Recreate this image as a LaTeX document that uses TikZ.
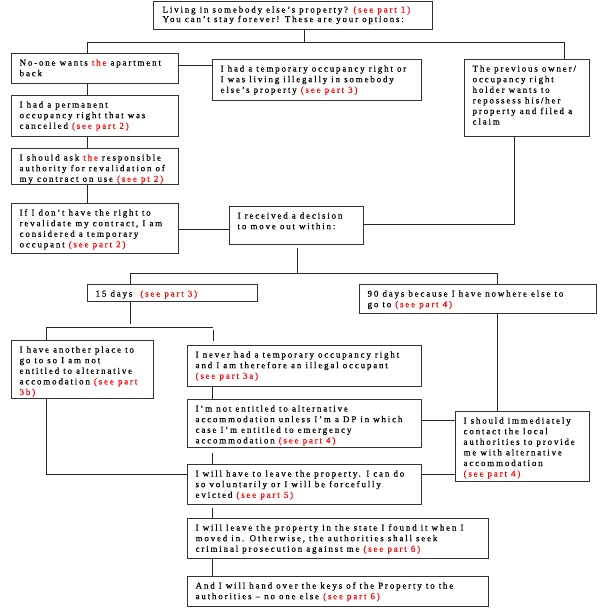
\documentclass[tikz,border=0pt]{standalone}
\usepackage{fontspec}
\setmainfont{Liberation Serif}[LetterSpace=20,FakeBold=0.4]
\usetikzlibrary{calc}
\newcommand{\redtxt}[1]{\textcolor{red}{#1}}
\newcommand{\bxtext}[3]{\hspace*{8pt}\parbox[b][#1pt][t]{#2pt}{\raggedright\rule{0pt}{12pt}#3}}
\tikzset{
  box/.style={draw=black!80, line width=1.2pt, fill=white, inner xsep=0pt, inner ysep=0pt,
    anchor=north west, font=\fontsize{9}{10.6}\selectfont},
  link/.style={draw=black!85, line width=1pt},
}
\newcommand{\mybox}[6]{%
  \pgfmathsetmacro{\bw}{#4-#2-8}\pgfmathsetmacro{\bh}{#5-#3}%
  \node[box] (#1) at (#2,#3) {\bxtext{\bh}{\bw}{#6}};}
\begin{document}
\begin{tikzpicture}[x=1pt,y=-1pt]
\useasboundingbox (0,0) rectangle (610,608);
% boxes
\node[box, font=\fontsize{9}{9.5}\selectfont] (T) at (153,1) {\hspace*{9pt}\parbox[b][28pt][t]{270pt}{\raggedright\rule{0pt}{11pt}Living in somebody else’s property? \redtxt{(see part 1)}\\You can’t stay forever! These are your options:}};
\mybox{A}{11}{53}{178}{83}{No-one wants \redtxt{the} apartment\\back}
\mybox{B}{212}{59}{421}{100}{I had a temporary occupancy right or\\I was living illegally in somebody\\else’s property \redtxt{(see part 3)}}
\mybox{C}{464}{59}{589}{136}{The previous owner/\\occupancy right\\holder wants to\\repossess his/her\\property and filed a\\claim}
\mybox{D}{11}{95}{178}{136}{I had a permanent\\occupancy right that was\\cancelled \redtxt{(see part 2)}}
\mybox{E}{11}{148}{178}{184}{I should ask \redtxt{the} responsible\\authority for revalidation of\\my contract on use \redtxt{(see pt 2)}}
\mybox{F}{11}{203}{178}{253}{If I don’t have the right to\\revalidate my contract, I am\\considered a temporary\\occupant \redtxt{(see part 2)}}
\mybox{G}{229}{206}{363}{244}{I received a decision\\to move out within:}
\mybox{S15}{87}{284}{257}{301}{15 days \ \redtxt{(see part 3)}}
\mybox{S90}{359}{284}{596}{313}{90 days because I have nowhere else to\\go to \redtxt{(see part 4)}}
\mybox{H}{11}{340}{153}{398}{I have another place to\\go to so I am not\\entitled to alternative\\accomodation \redtxt{(see part}\\\redtxt{3b)}}
\mybox{I}{187}{345}{421}{386}{I never had a temporary occupancy right\\and I am therefore an illegal occupant\\\redtxt{(see part 3a)}}
\mybox{J}{187}{399}{421}{447}{I’m not entitled to alternative\\accommodation unless I’m a DP in which\\case I’m entitled to emergency\\accommodation \redtxt{(see part 4)}}
\mybox{K}{187}{464}{421}{504}{I will have to leave the property. I can do\\so voluntarily or I will be forcefully\\evicted \redtxt{(see part 5)}}
\mybox{L}{455}{411}{589}{481}{I should immediately\\contact the local\\authorities to provide\\me with alternative\\accommodation\\\redtxt{(see part 4)}}
\mybox{M}{187}{518}{488}{558}{I will leave the property in the state I found it when I\\moved in. Otherwise, the authorities shall seek\\criminal prosecution against me \redtxt{(see part 6)}}
\mybox{N}{187}{576}{488}{606}{And I will hand over the keys of the Property to the\\authorities – no one else \redtxt{(see part 6)}}
% junction coordinates
\coordinate (j1) at (304,42);
\coordinate (j1l) at (87,42);
\coordinate (j1r) at (564,42);
\coordinate (ab) at (195,65);
\coordinate (cx) at (87,0);
\coordinate (fg) at (200,229);
\coordinate (cg) at (514,224);
\coordinate (gx) at (297,0);
\coordinate (j2l) at (130,273);
\coordinate (j2r) at (497,273);
\coordinate (j3l) at (46,327);
\coordinate (j3r) at (213,327);
\coordinate (kx) at (212,0);
\coordinate (hk) at (46,474);
\coordinate (jl) at (438,420);
\coordinate (kl) at (438,474);
% connectors
\draw[link] (T.south -| j1) -- (j1);
\draw[link] (A.north -| j1l) -- (j1l) -- (j1r) -- (C.north -| j1r);
\draw[link] (A.east |- ab) -- (B.west |- ab);
\draw[link] (A.south -| cx) -- (D.north -| cx);
\draw[link] (D.south -| cx) -- (E.north -| cx);
\draw[link] (E.south -| cx) -- (F.north -| cx);
\draw[link] (F.east |- fg) -- (G.west |- fg);
\draw[link] (C.south -| cg) -- (cg) -- (G.east |- cg);
\draw[link, shorten <=3pt] (G.south -| gx) -- (gx |- j2l);
\draw[link] (S15.north -| j2l) -- (j2l) -- (j2r) -- (S90.north -| j2r);
\draw[link, shorten >=3pt] (S15.south -| j2l) -- (j2l |- j3l);
\draw[link] (H.north -| j3l) -- (j3l) -- (j3r);
\draw[link, shorten <=3pt, shorten >=4pt] (j3r) -- (I.north -| j3r);
\draw[link] (I.south -| kx) -- (J.north -| kx);
\draw[link, shorten <=5pt] (J.south -| kx) -- (K.north -| kx);
\draw[link, shorten <=3pt] (K.south -| kx) -- (M.north -| kx);
\draw[link] (M.south -| kx) -- (N.north -| kx);
\draw[link] (H.south -| hk) -- (hk) -- (K.west |- hk);
\draw[link] (S90.south -| j2r) -- (L.north -| j2r);
\draw[link] (J.east |- jl) -- (L.west |- jl);
\draw[link] (K.east |- kl) -- (L.west |- kl);
\end{tikzpicture}
\end{document}
